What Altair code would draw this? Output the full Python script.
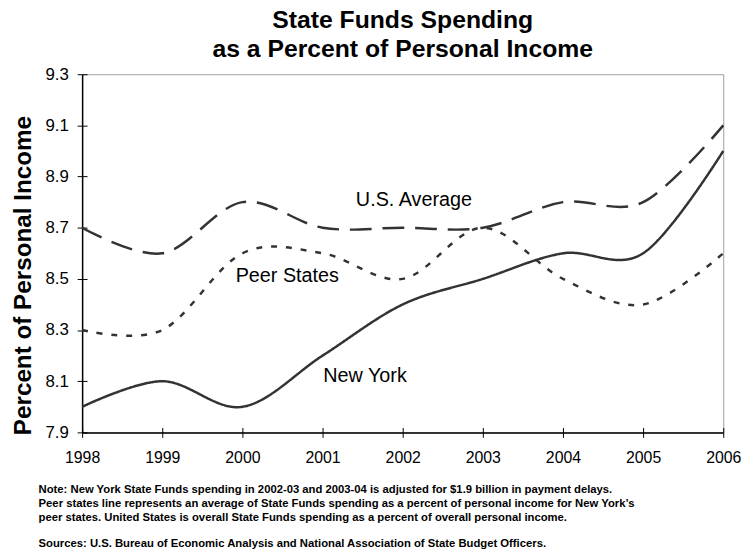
import altair as alt
import pandas as pd

years = [1998, 1999, 2000, 2001, 2002, 2003, 2004, 2005, 2006]
new_york = [8.0, 8.1, 8.0, 8.2, 8.4, 8.5, 8.6, 8.6, 9.0]
peer_states = [8.3, 8.3, 8.6, 8.6, 8.5, 8.7, 8.5, 8.4, 8.6]
us_average = [8.7, 8.6, 8.8, 8.7, 8.7, 8.7, 8.8, 8.8, 9.1]

series_names = ["New York", "Peer States", "U.S. Average"]
series_dash = [[1, 0], [6, 9], [22, 11]]

label_text = ["U.S. Average", "Peer States", "New York"]
label_year = [2002.14, 2000.56, 2001.53]
label_value = [8.81, 8.51, 8.12]

y_ticks = [7.9, 8.1, 8.3, 8.5, 8.7, 8.9, 9.1, 9.3]

title_lines = ["State Funds Spending", "as a Percent of Personal Income"]
note_lines = [
    "Note: New York State Funds spending in 2002-03 and 2003-04 is adjusted for $1.9 billion in payment delays.",
    "Peer states line represents an average of State Funds spending as a percent of personal income for New York\u2019s",
    "peer states. United States is overall State Funds spending as a percent of overall personal income.",
]
sources_line = "Sources: U.S. Bureau of Economic Analysis and National Association of State Budget Officers."

FONT = "Liberation Sans"

rows = []
for name, vals in zip(series_names, [new_york, peer_states, us_average]):
    for yr, v in zip(years, vals):
        rows.append({"year": yr, "value": v, "series": name})
df = pd.DataFrame(rows)
labels_df = pd.DataFrame({"year": label_year, "value": label_value, "text": label_text})

x_scale = alt.Scale(domain=[1998, 2006], nice=False, zero=False)
y_scale = alt.Scale(domain=[7.9, 9.3], nice=False, zero=False)

x_axis = alt.Axis(values=years, format="d", title=None, grid=False, orient="bottom",
                  labelFontSize=16, labelFont=FONT, labelColor="black",
                  tickSize=5, tickColor="black", domainColor="black", domainWidth=1.5,
                  labelPadding=12, labelFlush=False)
y_axis = alt.Axis(values=y_ticks, format=".1f", grid=False, orient="left",
                  title="Percent of Personal Income",
                  titleFont=FONT, titleFontSize=24.5, titleFontWeight="bold", titleColor="black",
                  titleAngle=270, titleAlign="center", titleBaseline="middle",
                  titleX=-59, titleY=203,
                  labelFontSize=17, labelFont=FONT, labelColor="black",
                  tickSize=5, tickColor="black", domainColor="black", domainWidth=1.5,
                  labelPadding=9, labelFlush=False)

# inner halves of the tick marks (ticks cross the axis line)
x_axis_in = alt.Axis(values=years, title=None, grid=False, orient="bottom", offset=-5,
                     domain=False, labels=False, tickSize=5, tickColor="black")
y_axis_in = alt.Axis(values=y_ticks, title=None, grid=False, orient="left", offset=-5,
                     domain=False, labels=False, tickSize=5, tickColor="black")

lines = alt.Chart(df).mark_line(interpolate="cardinal", strokeWidth=2.5, color="#333333",
                                strokeCap="butt").encode(
    x=alt.X("year:Q", scale=x_scale, axis=x_axis),
    y=alt.Y("value:Q", scale=y_scale, axis=y_axis),
    strokeDash=alt.StrokeDash("series:N", scale=alt.Scale(domain=series_names, range=series_dash), legend=None),
    detail="series:N",
)

labels = alt.Chart(labels_df).mark_text(font=FONT, fontSize=20, color="black",
                                        align="center", baseline="middle").encode(
    x=alt.X("year:Q", scale=x_scale, axis=x_axis_in),
    y=alt.Y("value:Q", scale=y_scale, axis=y_axis_in),
    text="text:N",
)

main = alt.layer(lines, labels).resolve_axis(x="independent", y="independent").properties(
    width=648, height=362,
    title=alt.TitleParams(text=title_lines, font=FONT, fontSize=25, fontWeight="bold",
                          color="black", lineHeight=30, anchor="middle", offset=3),
    view=alt.ViewBackground(stroke="#a0a0a0", strokeWidth=1),
)

foot = alt.Chart(pd.DataFrame({"t": [""]})).mark_text().encode(text="t:N").properties(
    width=648, height=1,
    title=alt.TitleParams(text=note_lines, subtitle=[sources_line], anchor="start", dx=-44,
                          font=FONT, fontSize=11.4, fontWeight="bold", color="black", lineHeight=14,
                          subtitleFont=FONT, subtitleFontSize=11.4, subtitleFontWeight="bold",
                          subtitleColor="black", subtitlePadding=15, offset=0),
    view=alt.ViewBackground(stroke=None),
)

chart = alt.vconcat(main, foot, spacing=18).properties(
    padding={"left": 10, "top": 4, "right": 5, "bottom": 0}
).configure_view(stroke=None)

chart.save("out.html", embed_options={"renderer": "svg", "actions": False})
